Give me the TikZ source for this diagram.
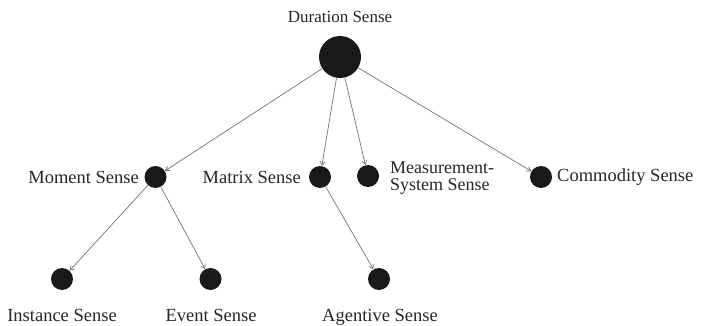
\documentclass[tikz,border=0pt]{standalone}
\usepackage{fontspec}
\setmainfont{Liberation Serif}
\usetikzlibrary{arrows.meta}
\begin{document}
\begin{tikzpicture}[x=1pt,y=-1pt,
  dot/.style={circle,fill=black!90,inner sep=0pt,minimum size=22pt},
  bigdot/.style={circle,fill=black!90,inner sep=0pt,minimum size=42pt},
  lbl/.style={font=\fontsize{18.5}{18}\selectfont,text=black!85,inner sep=0pt},
  edge/.style={draw=black!55,line width=0.7pt,-{Straight Barb[length=4pt,width=5pt]}}]
\useasboundingbox (0,0) rectangle (701,326);
\node[bigdot] (dur) at (340,57) {};
\node[lbl,font=\fontsize{17}{17}\selectfont] (durl) at (340,17) {Duration Sense};
\node[dot] (mom) at (155.5,177) {};
\node[lbl,anchor=east] (moml) at (139,177) {Moment Sense};
\node[dot] (mat) at (320,177) {};
\node[lbl,anchor=east] (matl) at (301,177) {Matrix Sense};
\node[dot] (mea) at (368,176) {};
\node[lbl,anchor=west,align=left,font=\fontsize{18}{16.5}\selectfont] (meal) at (390,178) {Measurement-\\System Sense};
\node[dot] (com) at (541,177) {};
\node[lbl,anchor=west] (coml) at (557,177) {Commodity Sense};
\node[dot] (ins) at (62,279) {};
\node[lbl] (insl) at (62,315) {Instance Sense};
\node[dot] (evt) at (210.5,279) {};
\node[lbl] (evtl) at (211,315) {Event Sense};
\node[dot] (agt) at (379,279) {};
\node[lbl] (agtl) at (380,317) {Agentive Sense};
\draw[edge] (dur) -- (mom);
\draw[edge] (dur) -- (mat);
\draw[edge] (dur) -- (mea);
\draw[edge] (dur) -- (com);
\draw[edge] (mom) -- (ins);
\draw[edge] (mom) -- (evt);
\draw[edge] (mat) -- (agt);
\end{tikzpicture}
\end{document}
